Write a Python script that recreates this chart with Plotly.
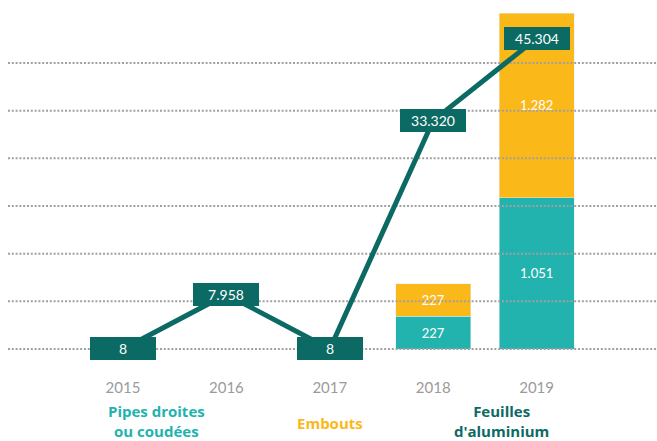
import plotly.graph_objects as go

# ---- data ----
years = [2015, 2016, 2017, 2018, 2019]
year_labels = ["2015", "2016", "2017", "2018", "2019"]
pipes = [None, None, None, 227, 1051]        # Pipes droites ou coudées
embouts = [None, None, None, 227, 1282]      # Embouts
feuilles = [8, 7958, 8, 33320, 45304]        # Feuilles d'aluminium

TEAL = "#22b3ae"
YELLOW = "#fbb819"
DARK = "#0c6a64"
GRAY = "#9b9b9b"
FONT = "Lato"
CAP_FONT = "Open Sans"

# ---- layout geometry (pixels) ----
W, H = 657, 441
PLOT_LEFT, PLOT_RIGHT = 8, 657
PLOT_TOP, PLOT_BOTTOM = 13, 360
ZERO_PX = 349
PH = PLOT_BOTTOM - PLOT_TOP
frac_below = (PLOT_BOTTOM - ZERO_PX) / (ZERO_PX - PLOT_TOP)

bar_top = max((p or 0) + (e or 0) for p, e in zip(pipes, embouts))
line_top = 49000
grid_step = 6950
n_grid = 7

x_range = [2013.888, 2020.164]

def fmt(v):
    return f"{v:,}".replace(",", ".")

def paper_y(px):
    return (PLOT_BOTTOM - px) / PH

def paper_x(px):
    return (px - PLOT_LEFT) / (PLOT_RIGHT - PLOT_LEFT)

fig = go.Figure()

# stacked bars (base axis)
fig.add_trace(go.Bar(x=years, y=pipes, marker_color=TEAL, width=0.725,
                     texttemplate="%{y:,}", textposition="inside",
                     insidetextanchor="middle", textangle=0,
                     textfont=dict(family=FONT, size=13, color="white"),
                     hoverinfo="skip", yaxis="y"))
fig.add_trace(go.Bar(x=years, y=embouts, marker_color=YELLOW, width=0.725,
                     texttemplate="%{y:,}", textposition="inside",
                     insidetextanchor="middle", textangle=0,
                     textfont=dict(family=FONT, size=13, color="white"),
                     hoverinfo="skip", yaxis="y"))

# dotted grid lines drawn above the bars (overlay axis)
gx, gy = [], []
for i in range(n_grid):
    gx += [x_range[0], x_range[1], None]
    gy += [i * grid_step, i * grid_step, None]
fig.add_trace(go.Scatter(x=gx, y=gy, mode="lines", yaxis="y2",
                         line=dict(color="#a0a0a0", width=2, dash="2px,1.8px"),
                         hoverinfo="skip"))

# line series
fig.add_trace(go.Scatter(x=years, y=feuilles, mode="lines", yaxis="y2",
                         line=dict(color=DARK, width=5), hoverinfo="skip"))

annotations = []
for x, v in zip(years, feuilles):
    annotations.append(dict(x=x, y=v, xref="x", yref="y2", text=fmt(v),
                            showarrow=False, bgcolor=DARK, width=66, height=23,
                            borderpad=0, borderwidth=0,
                            font=dict(family=FONT, size=14, color="white")))

# category captions
captions = [
    ("Pipes droites<br>ou coudées", 156.5, 421, TEAL),
    ("Embouts", 329.5, 423, YELLOW),
    ("Feuilles<br>d'aluminium", 501.5, 421, DARK),
]
for t, cx, cy, col in captions:
    annotations.append(dict(x=paper_x(cx), y=paper_y(cy), xref="paper", yref="paper",
                            text=f"<b>{t}</b>", showarrow=False,
                            xanchor="center", yanchor="middle", borderpad=0,
                            font=dict(family=CAP_FONT, size=15, color=col)))

fig.update_layout(
    width=W, height=H,
    margin=dict(l=PLOT_LEFT, r=W - PLOT_RIGHT, t=PLOT_TOP, b=H - PLOT_BOTTOM, pad=0),
    paper_bgcolor="white", plot_bgcolor="white",
    barmode="stack", showlegend=False, separators=",.",
    xaxis=dict(range=x_range, tickvals=years, ticktext=year_labels,
               showgrid=False, zeroline=False, showline=False,
               ticks="outside", ticklen=14, tickcolor="rgba(0,0,0,0)",
               tickfont=dict(family=FONT, size=15, color=GRAY)),
    yaxis=dict(range=[-frac_below * bar_top, bar_top], visible=False),
    yaxis2=dict(range=[-frac_below * line_top, line_top], overlaying="y",
                visible=False),
    annotations=annotations,
)

fig.write_html("out.html", config={"displayModeBar": False},
               post_script="document.body.style.margin='0';document.body.style.overflow='hidden';")
